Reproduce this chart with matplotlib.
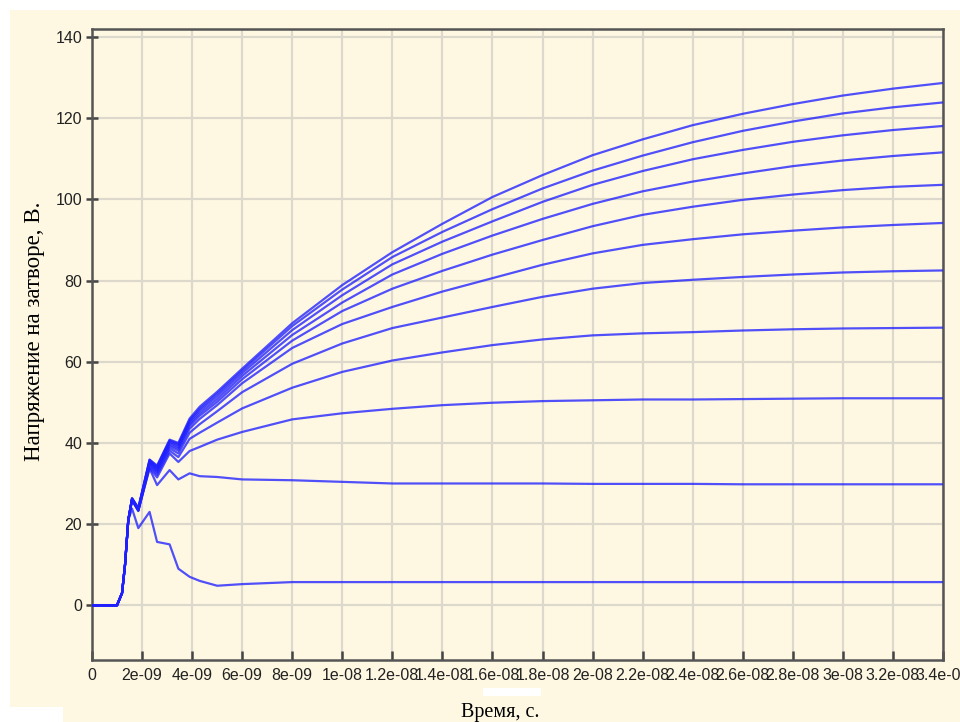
import matplotlib
matplotlib.use("Agg")
import matplotlib.pyplot as plt
from matplotlib.patches import Rectangle

# время, нс
t_ns = [0, 1.0, 1.2, 1.32, 1.45, 1.6, 1.85, 2.3, 2.6, 3.1, 3.45, 3.9, 4.3, 5, 6,
        8, 10, 12, 14, 16, 18, 20, 22, 24, 26, 28, 30, 32, 34]

# начало (общий фронт) одинаковое для всех кривых
frente = [0, 0, 3, 10, 21]

v1 = frente + [26.4, 24.0, 35.9, 34.4, 40.8, 40.0, 46.0, 48.9, 52.6, 58.3, 69.5, 78.9, 87.0,
               94.0, 100.6, 106.0, 110.9, 114.8, 118.3, 121.1, 123.5, 125.6, 127.3, 128.7]
v2 = frente + [26.3, 23.9, 35.8, 34.2, 40.6, 39.7, 45.6, 48.4, 52.1, 57.8, 68.8, 77.8, 85.8,
               92.0, 97.6, 102.7, 107.1, 110.8, 114.1, 116.9, 119.2, 121.2, 122.7, 123.9]
v3 = frente + [26.3, 23.8, 35.6, 34.0, 40.3, 39.4, 45.2, 47.9, 51.5, 57.2, 67.8, 76.4, 84.0,
               89.6, 94.6, 99.4, 103.6, 107.0, 109.9, 112.2, 114.2, 115.8, 117.1, 118.1]
v4 = frente + [26.2, 23.7, 35.4, 33.7, 40.0, 39.0, 44.7, 47.3, 50.8, 56.5, 66.6, 74.6, 81.5,
               86.6, 91.1, 95.2, 98.9, 102.0, 104.4, 106.4, 108.2, 109.6, 110.7, 111.6]
v5 = frente + [26.2, 23.6, 35.2, 33.4, 39.6, 38.6, 44.2, 46.7, 50.1, 55.7, 65.2, 72.5, 78.0,
               82.4, 86.4, 90.0, 93.4, 96.2, 98.2, 99.9, 101.2, 102.3, 103.1, 103.6]
v6 = frente + [26.1, 23.5, 35.0, 33.1, 39.2, 38.1, 43.5, 45.9, 49.3, 54.7, 63.4, 69.3, 73.5,
               77.3, 80.6, 83.9, 86.7, 88.8, 90.2, 91.4, 92.3, 93.1, 93.7, 94.2]
v7 = frente + [26.0, 23.4, 34.7, 32.7, 38.7, 37.4, 42.5, 44.6, 47.8, 52.5, 59.5, 64.5, 68.3,
               70.9, 73.5, 76.0, 78.0, 79.4, 80.2, 80.9, 81.5, 82.0, 82.3, 82.5]
v8 = frente + [25.9, 23.3, 34.3, 32.2, 38.1, 36.5, 41.0, 42.5, 45.0, 48.5, 53.6, 57.5, 60.3,
               62.3, 64.1, 65.5, 66.5, 67.0, 67.3, 67.7, 68.0, 68.2, 68.3, 68.4]
v9 = frente + [25.8, 23.2, 33.9, 31.5, 37.4, 35.3, 38.0, 39.0, 40.8, 42.7, 45.8, 47.3, 48.4,
               49.3, 49.9, 50.3, 50.5, 50.7, 50.7, 50.8, 50.9, 51.0, 51.0, 51.0]
v10 = frente + [26.0, 23.4, 33.7, 29.6, 33.3, 31.0, 32.5, 31.8, 31.6, 31.0, 30.8, 30.4, 30.0,
                30.0, 30.0, 30.0, 29.9, 29.9, 29.9, 29.8, 29.8, 29.8, 29.8, 29.8]
v11 = frente + [23.8, 19.0, 23.0, 15.6, 15.0, 9.0, 7.0, 6.0, 4.8, 5.2, 5.7, 5.7, 5.7,
                5.7, 5.7, 5.7, 5.7, 5.7, 5.7, 5.7, 5.7, 5.7, 5.7, 5.7]

curvas = [v1, v2, v3, v4, v5, v6, v7, v8, v9, v10, v11]

y_ticks = [0, 20, 40, 60, 80, 100, 120, 140]
x_ticks = [0, 2e-09, 4e-09, 6e-09, 8e-09, 1e-08, 1.2e-08, 1.4e-08, 1.6e-08, 1.8e-08,
           2e-08, 2.2e-08, 2.4e-08, 2.6e-08, 2.8e-08, 3e-08, 3.2e-08, 3.4e-08]
x_labels = ["0", "2e-09", "4e-09", "6e-09", "8e-09", "1e-08", "1.2e-08", "1.4e-08",
            "1.6e-08", "1.8e-08", "2e-08", "2.2e-08", "2.4e-08", "2.6e-08", "2.8e-08",
            "3e-08", "3.2e-08", "3.4e-08"]

fondo = "#fef8e3"

fig = plt.figure(figsize=(9.6, 7.22), dpi=100, facecolor=fondo)
# белые поля скриншота
for r in [(0, 1 - 10 / 722, 1, 10 / 722), (0, 0, 10 / 960, 1), (0, 0, 63 / 960, 15 / 722),
          (483 / 960, 1 - 696 / 722, 58 / 960, 8 / 722)]:
    fig.patches.append(Rectangle(r[:2], r[2], r[3], transform=fig.transFigure,
                                 facecolor="white", edgecolor="none", zorder=-1))

ax = fig.add_axes([92 / 960, 1 - 660 / 722, 851 / 960, 631 / 722])
ax.set_facecolor(fondo)

t = [x * 1e-9 for x in t_ns]
for v in curvas:
    ax.plot(t, v, color="#2020ff", lw=1.6, alpha=0.78, zorder=3)

ax.set_xlim(0, 3.4e-08)
ax.set_ylim(-13.5, 142)
ax.set_xticks(x_ticks)
ax.set_xticklabels(x_labels)
ax.set_yticks(y_ticks)

ax.grid(True, color="#dcd8cc", lw=1.6, zorder=0)
ax.set_axisbelow(True)
for s in ax.spines.values():
    s.set_color("#555555")
    s.set_linewidth(1.8)

fuente = ["Liberation Sans", "DejaVu Sans"]
ax.tick_params(axis="y", direction="inout", length=8, width=1.8, color="#444444",
               labelsize=11.5, pad=3)
ax.tick_params(axis="x", direction="in", length=6.5, width=1.8, color="#444444",
               labelsize=11.5, pad=6)
for lab in ax.get_xticklabels() + ax.get_yticklabels():
    lab.set_family(fuente)
    lab.set_color("#222222")

fig.text(35 / 960, 1 - 331 / 722, "Напряжение на затворе, В.", rotation=90,
         ha="center", va="center", fontsize=16.5, family=["Liberation Serif", "DejaVu Serif"])
fig.text(500 / 960, 1 - 712 / 722, "Время, с.", ha="center", va="center",
         fontsize=14.5, family=["Liberation Serif", "DejaVu Serif"])

fig.savefig("out.png", dpi=100, facecolor=fig.get_facecolor())
